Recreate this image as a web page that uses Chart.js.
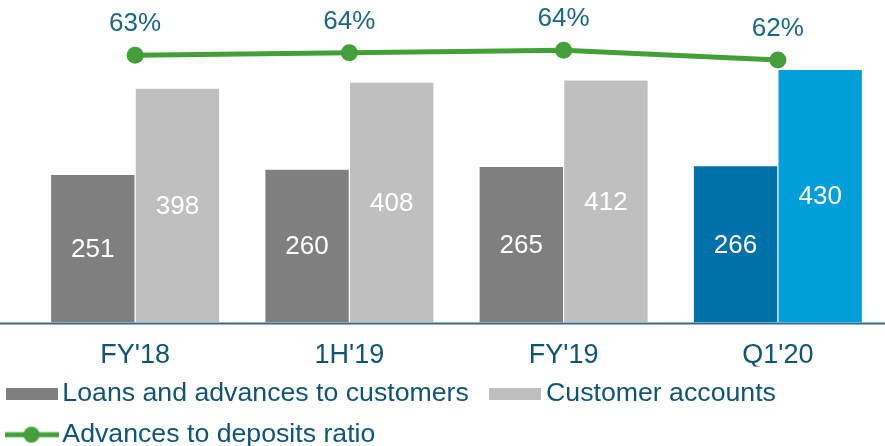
<!DOCTYPE html>
<html>
<head>
<meta charset="utf-8">
<script src="https://cdn.jsdelivr.net/npm/chart.js@4/dist/chart.umd.min.js"></script>
<style>
  html, body { margin: 0; padding: 0; background: #fff; }
  #wrap { width: 885px; height: 446px; position: relative; }
</style>
</head>
<body>
<div id="wrap"><canvas id="chart"></canvas></div>
<script>
const periods = ["FY'18", "1H'19", "FY'19", "Q1'20"];
const loans = [251, 260, 265, 266];
const deposits = [398, 408, 412, 430];
const ratio = [63.1, 63.7, 64.3, 61.9];
const ratioLabels = ['63%', '64%', '64%', '62%'];

const FONT = '"Liberation Sans", Arial, sans-serif';
const TEXT_BLUE = '#0E5576';
const GREEN = '#43A038';
const loanColors = ['#7F7F7F', '#7F7F7F', '#7F7F7F', '#0071A9'];
const depositColors = ['#BFBFBF', '#BFBFBF', '#BFBFBF', '#009FDA'];

// small canvases used as legend markers
const boxMarker = (color) => {
  const c = document.createElement('canvas');
  c.width = 52; c.height = 12;
  const g = c.getContext('2d');
  g.fillStyle = color;
  g.fillRect(0, 0, 52, 12);
  return c;
};
const lineMarker = () => {
  const c = document.createElement('canvas');
  c.width = 54; c.height = 18;
  const g = c.getContext('2d');
  g.strokeStyle = GREEN;
  g.lineWidth = 5;
  g.beginPath(); g.moveTo(0, 9); g.lineTo(54, 9); g.stroke();
  g.fillStyle = GREEN;
  g.beginPath(); g.arc(27, 9, 8, 0, Math.PI * 2); g.fill();
  return c;
};

// values inside the bars, percentages above the line points
const valueLabels = {
  id: 'valueLabels',
  afterDatasetsDraw(chart) {
    const { ctx } = chart;
    ctx.save();
    ctx.font = '26px ' + FONT;
    ctx.textAlign = 'center';
    ctx.textBaseline = 'middle';
    [0, 1].forEach(i => {
      chart.getDatasetMeta(i).data.forEach((bar, j) => {
        ctx.fillStyle = '#fff';
        ctx.fillText(chart.data.datasets[i].data[j], bar.x, (bar.y + bar.base) / 2 + 1);
      });
    });
    chart.getDatasetMeta(2).data.forEach((pt, j) => {
      ctx.fillStyle = '#186888';
      ctx.fillText(ratioLabels[j], pt.x, pt.y - 31);
    });
    ctx.restore();
  }
};

// baseline runs across the whole width
const baseLine = {
  id: 'baseLine',
  beforeDatasetsDraw(chart) {
    const { ctx, chartArea } = chart;
    ctx.save();
    ctx.strokeStyle = '#2F6A8A';
    ctx.lineWidth = 2;
    ctx.beginPath();
    ctx.moveTo(0, chartArea.bottom + 1);
    ctx.lineTo(chart.width, chartArea.bottom + 1);
    ctx.stroke();
    ctx.restore();
  }
};

new Chart(document.getElementById('chart'), {
  type: 'bar',
  data: {
    labels: periods,
    datasets: [
      {
        label: 'Loans and advances to customers',
        data: loans,
        backgroundColor: loanColors,
        barPercentage: 0.985,
        categoryPercentage: 0.79,
        order: 1
      },
      {
        label: 'Customer accounts',
        data: deposits,
        backgroundColor: depositColors,
        barPercentage: 0.985,
        categoryPercentage: 0.79,
        order: 1
      },
      {
        type: 'line',
        label: 'Advances to deposits ratio',
        data: ratio,
        yAxisID: 'y2',
        borderColor: GREEN,
        backgroundColor: GREEN,
        borderWidth: 5,
        pointRadius: 8.5,
        pointBorderWidth: 0,
        pointBackgroundColor: GREEN,
        clip: false,
        order: 0
      }
    ]
  },
  options: {
    responsive: true,
    maintainAspectRatio: false,
    animation: false,
    layout: { autoPadding: false, padding: { top: 0, right: 0, bottom: -12, left: 0 } },
    scales: {
      x: {
        grid: { display: false, drawTicks: false },
        border: { display: false },
        ticks: { color: TEXT_BLUE, font: { family: FONT, size: 27 }, padding: 17 },
        afterFit: (s) => { s.height = 44; }
      },
      y: {
        min: 0,
        max: 549,
        grid: { display: false, drawTicks: false },
        border: { display: false },
        ticks: { display: false },
        afterFit: (s) => { s.width = 28; }
      },
      y2: {
        display: false,
        min: -2.8,
        max: 76.7
      }
    },
    plugins: {
      tooltip: { enabled: false },
      legend: {
        position: 'bottom',
        align: 'start',
        labels: {
          usePointStyle: true,
          pointStyleWidth: 35,
          padding: 14,
          color: TEXT_BLUE,
          font: { family: FONT, size: 26.7 },
          generateLabels: (chart) => [
            // two trailing spaces widen the gap before the second item, as in the source
            { text: 'Loans and advances to customers  ', pointStyle: boxMarker('#7F7F7F'), fontColor: TEXT_BLUE, datasetIndex: 0, lineWidth: 0 },
            { text: 'Customer accounts', pointStyle: boxMarker('#BFBFBF'), fontColor: TEXT_BLUE, datasetIndex: 1, lineWidth: 0 },
            { text: 'Advances to deposits ratio', pointStyle: lineMarker(), fontColor: TEXT_BLUE, datasetIndex: 2, lineWidth: 0 }
          ]
        }
      }
    }
  },
  plugins: [valueLabels, baseLine]
});
</script>
</body>
</html>
